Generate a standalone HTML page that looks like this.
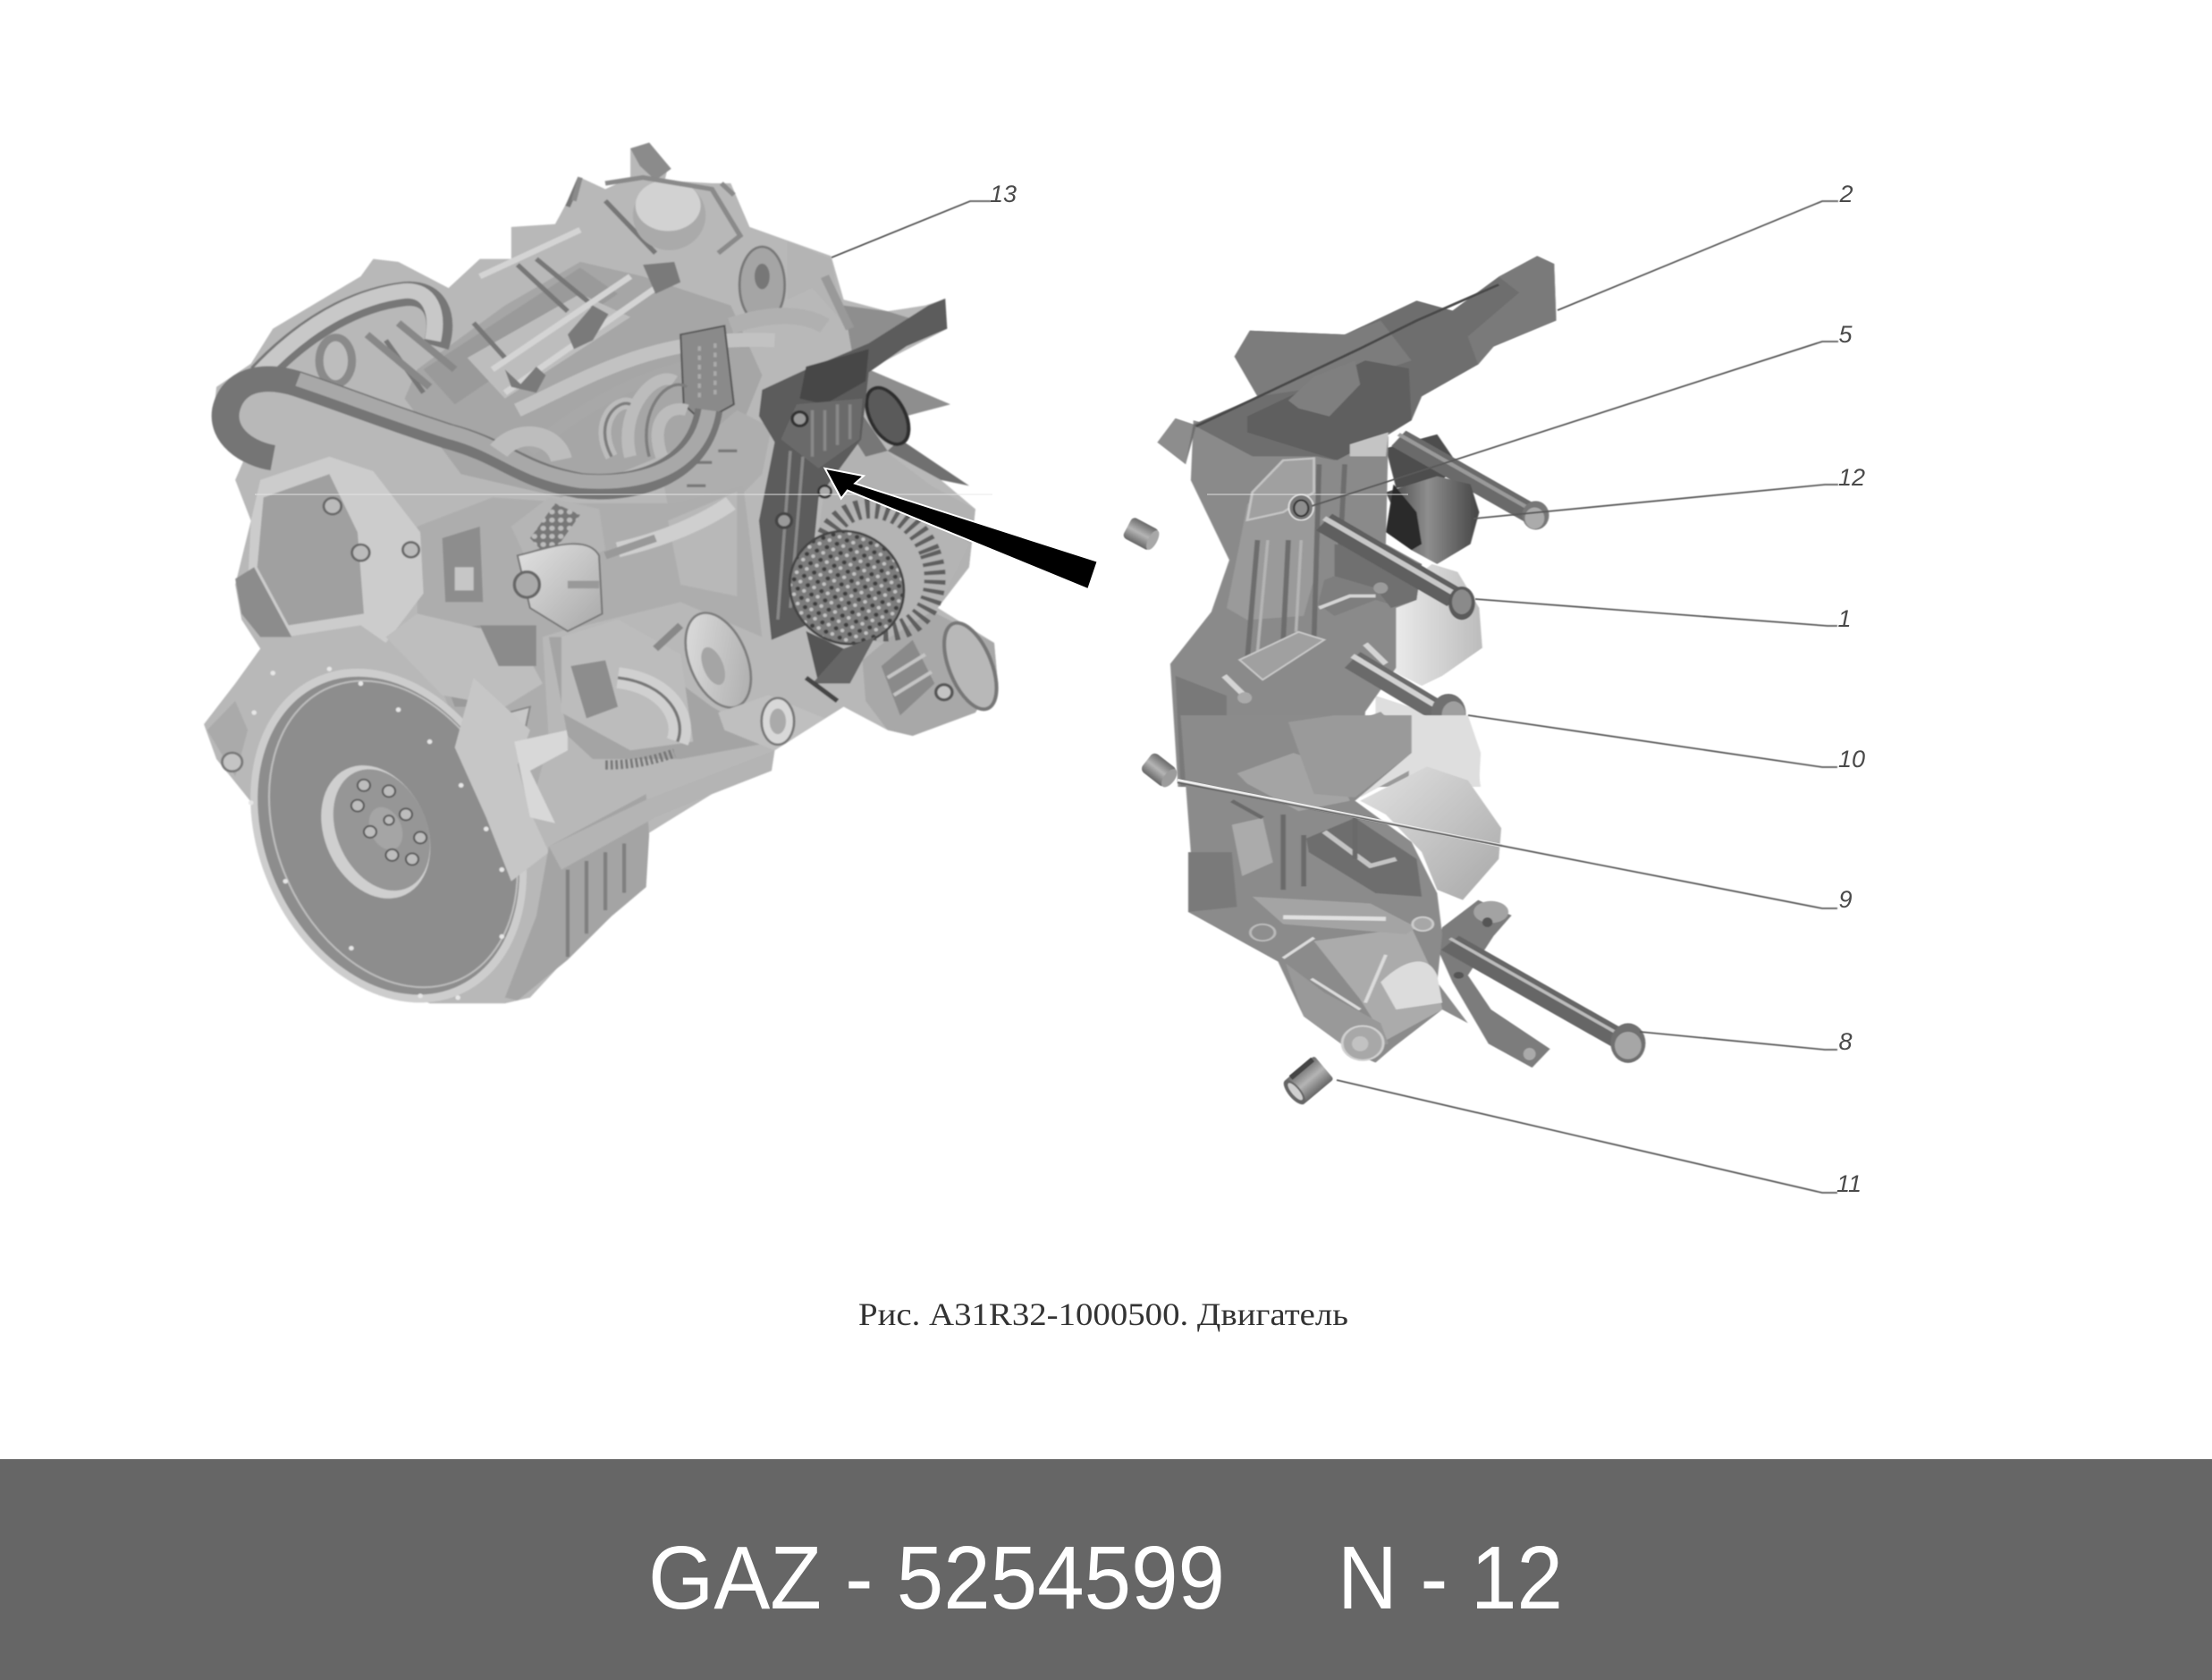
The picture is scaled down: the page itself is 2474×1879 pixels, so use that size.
<!DOCTYPE html>
<html><head><meta charset="utf-8"><style>
html,body{margin:0;padding:0;background:#fff;width:2474px;height:1879px;overflow:hidden}
svg{display:block}
</style></head><body>
<svg width="2474" height="1879" viewBox="0 0 2474 1879" xmlns="http://www.w3.org/2000/svg">
<defs>
<filter id="b" x="-5%" y="-5%" width="110%" height="110%"><feGaussianBlur stdDeviation="1.2"/></filter>
<filter id="s" x="-10%" y="-10%" width="120%" height="120%"><feGaussianBlur stdDeviation="0.5"/></filter>
<pattern id="dots" width="17" height="17" patternUnits="userSpaceOnUse"><rect width="17" height="17" fill="#7c7c7c"/><circle cx="5" cy="5" r="3.6" fill="#3c3c3c"/><circle cx="13" cy="12" r="3.2" fill="#c4c4c4"/></pattern>
<pattern id="mesh" width="14" height="14" patternUnits="userSpaceOnUse"><rect width="14" height="14" fill="#777"/><circle cx="7" cy="7" r="4.5" fill="#bbb"/></pattern>
<linearGradient id="lg" x1="0" y1="0" x2="1" y2="0"><stop offset="0" stop-color="#efefef"/><stop offset="1" stop-color="#bcbcbc"/></linearGradient>
<linearGradient id="lg2" x1="0" y1="0" x2="1" y2="1"><stop offset="0" stop-color="#e2e2e2"/><stop offset="1" stop-color="#a8a8a8"/></linearGradient>
<linearGradient id="dk" x1="0" y1="0" x2="1" y2="0"><stop offset="0" stop-color="#3f3f3f"/><stop offset=".45" stop-color="#8e8e8e"/><stop offset="1" stop-color="#444"/></linearGradient>
<linearGradient id="cyl" x1="0" y1="0" x2="0" y2="1"><stop offset="0" stop-color="#6a6a6a"/><stop offset=".5" stop-color="#b5b5b5"/><stop offset="1" stop-color="#666"/></linearGradient>
</defs>
<rect width="2474" height="1879" fill="#fff"/>

<!-- ENGINE -->
<g filter="url(#b)" transform="translate(200,140) scale(.7015,.6505)">
<path d="M720,40 750,30 780,70 775,95 850,100 880,100 910,175 1040,225 1060,300 1130,320 1190,310 1220,300 1225,350 1180,375 1100,420 1230,480 1160,500 1150,540 1260,620 1215,610 1270,660 1260,760 1210,830 1300,890 1305,950 1270,1010 1170,1050 1130,1040 1060,1000 950,1075 945,1110 850,1150 745,1220 745,1310 690,1360 620,1430 560,1500 520,1510 400,1510 280,1450 180,1300 120,1170 60,1090 40,1030 90,960 130,900 100,850 90,790 115,680 90,610 110,560 55,500 60,450 115,410 150,350 290,260 310,230 350,235 430,280 480,230 530,230 530,175 600,170 640,90 680,110 720,90Z" fill="#b8b8b8"/>
<!-- fan -->
<path d="M1060,310 1130,320 1190,340 1100,420 1230,480 1160,500 1130,520 1080,430Z" fill="#8e8e8e"/>
<path d="M1150,540 1260,620 1215,610 1130,560Z" fill="#6f6f6f"/>
<!-- head -->
<path d="M380,420 520,310 640,235 740,260 880,310 930,430 900,510 610,640 450,600 360,470Z" fill="#a6a6a6"/>
<path d="M390,420 640,245 700,290 440,480Z" fill="#9a9a9a"/>
<path d="M460,400 640,290 720,330 520,470Z" fill="#bdbdbd"/>
<path d="M540,240 620,320M570,230 660,310M680,130 760,220M640,90 620,140M330,370 390,460M470,340 520,400" stroke="#777" stroke-width="8" fill="none"/>
<path d="M500,420 720,260M520,460 760,280M480,260 640,180" stroke="#d4d4d4" stroke-width="10" fill="none"/>
<path d="M520,420 545,445 570,415 585,430 570,460 530,450Z M620,360 660,310 685,325 660,370 630,385Z M740,240 790,235 800,270 760,290Z" fill="#7a7a7a"/>
<!-- oil cap -->
<ellipse cx="782" cy="155" rx="58" ry="60" fill="#aaa"/><ellipse cx="780" cy="138" rx="52" ry="44" fill="#d2d2d2"/>
<path d="M720,40 750,30 785,75 760,95 735,70Z" fill="#8b8b8b"/>
<path d="M680,100 740,90 850,110 895,190 860,220M640,90 630,130M865,100 885,120" stroke="#8a8a8a" stroke-width="8" fill="none"/>
<!-- timing gear at rear -->
<ellipse cx="930" cy="275" rx="36" ry="66" fill="#a5a5a5" stroke="#777" stroke-width="4"/>
<ellipse cx="930" cy="260" rx="12" ry="22" fill="#777"/>
<path d="M970,200 1040,230 1050,290 1060,340 1010,280 970,300Z" fill="#b4b4b4"/>
<path d="M1030,260 1070,350" stroke="#999" stroke-width="14"/>
<!-- pipes -->
<path d="M880,345 C950,320 1000,325 1030,345" stroke="#b0b0b0" stroke-width="28" fill="none"/>
<path d="M540,490 C660,430 760,360 950,370" stroke="#c2c2c2" stroke-width="24" fill="none"/>
<path d="M560,560 C700,430 820,410 880,400" stroke="#a8a8a8" stroke-width="20" fill="none"/>
<!-- connector -->
<path d="M800,360 870,345 885,480 835,510 805,480Z" fill="#8a8a8a" stroke="#555" stroke-width="3"/>
<path d="M830,380V470M855,375V470" stroke="#aaa" stroke-width="5" stroke-dasharray="8 8"/>
<!-- loops -->
<path d="M690,570 C660,510 700,470 720,480M720,570 C700,490 760,420 790,440M770,570 C750,510 780,480 810,490" stroke="#bcbcbc" stroke-width="20" fill="none"/>
<path d="M690,570 C660,510 700,470 720,480M750,570 C730,490 780,430 810,450" stroke="#7d7d7d" stroke-width="5" fill="none"/>
<!-- upper metal pipe -->
<path d="M130,430 C200,350 280,300 360,290 C410,285 425,330 410,380" stroke="#777" stroke-width="42" fill="none"/>
<path d="M130,425 C200,345 280,295 360,285 C400,282 415,320 405,370" stroke="#c8c8c8" stroke-width="26" fill="none"/>
<ellipse cx="250" cy="405" rx="26" ry="40" fill="#bdbdbd" stroke="#8a8a8a" stroke-width="13"/>
<path d="M300,360 400,450M350,340 440,420" stroke="#888" stroke-width="12"/>
<!-- block top right -->
<path d="M770,600 890,490 945,520 930,600 870,665 780,655Z" fill="#aeaeae"/>
<path d="M820,580h30M860,560h30M810,620h30" stroke="#777" stroke-width="5"/>
<!-- large hose -->
<path d="M845,490 C830,590 740,630 640,620 C540,600 520,560 430,535 C330,500 260,470 190,445 C130,425 85,440 75,490 C68,535 110,565 150,572" stroke="#747474" stroke-width="44" fill="none"/>
<path d="M845,490 C830,590 740,620 640,612 C540,595 520,552 430,527 C330,492 260,462 190,437" stroke="#a8a8a8" stroke-width="24" fill="none"/>
<path d="M510,560 C540,520 600,530 610,575" stroke="#bdbdbd" stroke-width="34" fill="none"/>
<!-- block centre -->
<path d="M380,690 500,640 640,650 790,650 900,620 930,880 800,820 610,870 580,880 590,1060 560,1180 430,1000 380,860Z" fill="#adadad"/>
<path d="M420,710 480,690 485,820 425,820Z" fill="#8d8d8d"/>
<path d="M440,760h30v40h-30z" fill="#c6c6c6"/>
<path d="M780,680 890,630 890,810 800,790Z" fill="#b8b8b8"/>
<path d="M700,730 C780,710 840,680 880,650" stroke="#cfcfcf" stroke-width="26" fill="none"/>
<path d="M395,870 480,860 500,1000 440,1000Z" fill="#9a9a9a"/>
<!-- oil filter mesh -->
<path d="M530,690 590,640 670,660 680,730 620,760 560,760Z" fill="#b5b5b5"/>
<path d="M560,710 600,650 640,670 590,745Z" fill="url(#mesh)"/>
<path d="M540,740 C580,730 650,700 670,740 L675,840 620,870 560,830Z" fill="url(#lg2)" stroke="#777" stroke-width="3"/>
<path d="M680,740 760,710 M620,790h50" stroke="#999" stroke-width="13"/>
<ellipse cx="555" cy="790" rx="20" ry="22" fill="#aaa" stroke="#666" stroke-width="5"/>
<!-- timing cover -->
<path d="M130,610 240,570 310,595 385,700 390,805 330,890 290,860 170,880 110,790 115,680Z" fill="#cccccc"/>
<path d="M135,640 240,600 285,700 295,840 175,860 125,760Z" fill="#a0a0a0"/>
<path d="M90,780 120,760 180,880 130,880 100,840Z" fill="#8c8c8c"/>
<circle cx="245" cy="655" r="14" fill="#bbb" stroke="#666" stroke-width="4"/><circle cx="290" cy="735" r="14" fill="#bbb" stroke="#666" stroke-width="4"/><circle cx="370" cy="730" r="13" fill="#bbb" stroke="#666" stroke-width="4"/>
<path d="M330,880 380,840 540,880 580,960 520,1000 420,980Z" fill="#bebebe"/>
<path d="M480,860 570,860 570,930 510,930Z" fill="#8b8b8b"/>
<path d="M490,1020 560,1000 550,1050 480,1070Z" fill="#c8c8c8" stroke="#888" stroke-width="3"/>
<!-- flywheel -->
<g transform="rotate(-20 325 1225)">
<ellipse cx="335" cy="1225" rx="208" ry="296" fill="#cdcdcd"/>
<ellipse cx="335" cy="1225" rx="197" ry="282" fill="#8d8d8d"/>
<ellipse cx="343" cy="1225" rx="186" ry="272" fill="#8d8d8d" stroke="#bdbdbd" stroke-width="3"/>
<ellipse cx="318" cy="1212" rx="82" ry="118" fill="#cfcfcf"/>
<ellipse cx="328" cy="1212" rx="72" ry="108" fill="#969696"/>
<ellipse cx="335" cy="1212" rx="25" ry="38" fill="#a5a5a5"/>
</g>
<g fill="#bdbdbd" stroke="#555" stroke-width="3">
<circle cx="295" cy="1135" r="10"/><circle cx="335" cy="1145" r="10"/><circle cx="362" cy="1185" r="10"/><circle cx="385" cy="1225" r="10"/><circle cx="372" cy="1262" r="10"/><circle cx="340" cy="1255" r="10"/><circle cx="305" cy="1215" r="10"/><circle cx="285" cy="1170" r="10"/><circle cx="335" cy="1195" r="8"/>
</g>
<g fill="#e6e6e6"><circle cx="150" cy="942" r="4"/><circle cx="240" cy="935" r="4"/><circle cx="290" cy="960" r="4"/><circle cx="350" cy="1005" r="4"/><circle cx="400" cy="1060" r="4"/><circle cx="450" cy="1135" r="4"/><circle cx="490" cy="1210" r="4"/><circle cx="515" cy="1280" r="4"/><circle cx="515" cy="1395" r="4"/><circle cx="445" cy="1500" r="4"/><circle cx="385" cy="1497" r="4"/><circle cx="275" cy="1415" r="4"/><circle cx="170" cy="1300" r="4"/><circle cx="115" cy="1165" r="4"/><circle cx="120" cy="1010" r="4"/></g>
<path d="M45,1040 90,990 110,1040 90,1120Z" fill="#aaa"/><circle cx="85" cy="1095" r="16" fill="#c4c4c4" stroke="#777" stroke-width="4"/>
<!-- right of flywheel block -->
<path d="M470,950 560,1040 540,1100 560,1180 590,1250 530,1300 490,1190 440,1070Z" fill="#c6c6c6"/>
<path d="M535,1060 620,1040 620,1075 560,1110 600,1200 560,1190Z" fill="#d8d8d8"/>
<path d="M590,1240 745,1150 750,1220 745,1310 690,1360 620,1435 540,1505 520,1500 570,1360Z" fill="#a4a4a4"/>
<path d="M620,1280V1430M650,1265V1390M680,1250V1350M710,1235V1320" stroke="#7f7f7f" stroke-width="6"/>
<path d="M590,1240 745,1160 950,1075 945,1110 850,1150 760,1190 610,1280Z" fill="#b4b4b4"/>
<path d="M590,880 620,1050 660,1090 800,1090 950,1060 850,1000 700,880Z" fill="#a4a4a4"/>
<!-- pump/turbo -->
<path d="M610,880 700,850 800,910 820,1060 720,1075 610,1010Z" fill="#bcbcbc"/>
<path d="M625,930 680,920 700,1000 650,1020Z" fill="#8d8d8d"/>
<path d="M700,950 C780,960 810,1020 795,1060" stroke="#d0d0d0" stroke-width="36" fill="none"/>
<path d="M700,950 C780,960 810,1020 795,1060" stroke="#777" stroke-width="5" fill="none"/>
<path d="M760,900 800,860" stroke="#888" stroke-width="12"/>
<path d="M680,1100 C730,1100 760,1090 790,1080" stroke="#777" stroke-width="16" stroke-dasharray="4 4" fill="none"/>
<ellipse cx="860" cy="920" rx="46" ry="85" fill="url(#lg2)" stroke="#7d7d7d" stroke-width="4" transform="rotate(-20 860 920)"/>
<ellipse cx="852" cy="930" rx="16" ry="34" fill="#a5a5a5" transform="rotate(-20 852 930)"/>
<path d="M860,1010 940,980 1030,1020 950,1075 870,1040Z" fill="#bfbfbf"/>
<ellipse cx="955" cy="1025" rx="26" ry="40" fill="#d8d8d8" stroke="#777" stroke-width="4"/><ellipse cx="955" cy="1025" rx="13" ry="22" fill="#aaa"/>
<!-- rear pump -->
<path d="M1090,920 1190,830 1300,890 1305,950 1270,1010 1170,1050 1130,1040 1095,990Z" fill="#a8a8a8"/>
<ellipse cx="1262" cy="930" rx="34" ry="78" fill="#b8b8b8" stroke="#777" stroke-width="6" transform="rotate(-20 1262 930)"/>
<path d="M1120,930 1170,885 1205,960 1150,1015Z" fill="#8a8a8a"/>
<path d="M1130,950 1190,910M1140,980 1200,940" stroke="#c4c4c4" stroke-width="6"/>
<circle cx="1220" cy="975" r="13" fill="#c4c4c4" stroke="#555" stroke-width="5"/>
<!-- pulley + alternator -->
<path d="M1040,540 1090,530 1200,620 1270,660 1260,760 1210,830 1120,890 1050,870 1000,860Z" fill="#b2b2b2"/>
<ellipse cx="1130" cy="500" rx="28" ry="52" fill="#5a5a5a" stroke="#2f2f2f" stroke-width="6" transform="rotate(-25 1130 500)"/>
<path d="M1085,490 1130,560 1095,570 1060,510Z" fill="#777"/>
<!-- dark bracket -->
<path d="M930,455 1000,420 1100,375 1195,310 1222,298 1225,350 1160,380 1100,425 1088,540 1020,640 1000,860 945,885 925,680 950,545 925,500Z" fill="#5c5c5c"/>
<path d="M1000,415 1100,385 1095,440 1030,480 990,470Z" fill="#474747"/>
<path d="M985,480 1090,470 1085,540 1020,590 960,540Z" fill="#6a6a6a"/>
<path d="M1010,490V570M1030,490V560M1050,480V550M1070,480V540M975,560 955,850M995,570 975,830" stroke="#888" stroke-width="5"/>
<circle cx="990" cy="505" r="12" fill="#999" stroke="#333" stroke-width="5"/><circle cx="965" cy="680" r="12" fill="#999" stroke="#444" stroke-width="5"/><circle cx="1030" cy="630" r="10" fill="#aaa" stroke="#333" stroke-width="4"/>
<!-- alternator -->
<path d="M1080,650 1170,660 1260,720 1210,830 1130,880 1020,860Z" fill="#b4b4b4"/>
<ellipse cx="1115" cy="765" rx="88" ry="108" fill="none" stroke="#5e5e5e" stroke-width="34" stroke-dasharray="7 9" transform="rotate(-20 1115 765)"/>
<ellipse cx="1065" cy="795" rx="90" ry="98" fill="url(#dots)" stroke="#444" stroke-width="4" transform="rotate(-20 1065 795)"/>
<path d="M1000,870 1060,900 1060,960 1020,960Z" fill="#555"/><path d="M1060,900 1110,880 1070,960 1010,960Z" fill="#666"/>
<path d="M1000,950 1050,990" stroke="#444" stroke-width="8"/>
</g>

<!-- RIGHT PART upper -->
<g filter="url(#b)" transform="translate(1240,180) scale(.574,.4464)">
<path d="M540,720 640,685 680,760 650,800 560,820Z" fill="#4e4e4e"/>
<path d="M560,1080 630,1010 680,1030 722,1120 728,1220 650,1290 610,1315 540,1270Z" fill="url(#lg)"/>
<path d="M520,1340 640,1390 710,1450 725,1568 590,1568 520,1480Z" fill="#dedede"/>
<!-- bolt 12 -->
<path d="M565,695 825,885" stroke="#6b6b6b" stroke-width="48" fill="none"/>
<path d="M565,685 825,875" stroke="#9a9a9a" stroke-width="9" fill="none"/>
<ellipse cx="832" cy="888" rx="26" ry="36" fill="#777"/><ellipse cx="830" cy="895" rx="19" ry="27" fill="#ababab"/>
<!-- tensioner pulley -->
<path d="M540,830 640,790 705,810 722,880 705,960 640,1010 590,975Z" fill="url(#dk)"/>
<path d="M555,810 600,880 610,960 590,975 540,930Z" fill="#2b2b2b"/>
<!-- body -->
<path d="M165,650 440,745 545,690 540,960 610,1010 600,1100 560,1120 560,1270 500,1380 490,1568 135,1568 120,1260 200,1130 235,1000 160,800Z" fill="#8a8a8a"/>
<path d="M270,860 400,740 410,1000 380,1140 270,1150 230,1120 255,960Z" fill="#9a9a9a"/>
<path d="M290,950 270,1250M350,950 340,1200M410,760 400,1200M460,760 450,1000" stroke="#6d6d6d" stroke-width="10"/>
<path d="M310,950 290,1230M375,950 365,1180" stroke="#b4b4b4" stroke-width="6"/>
<path d="M280,830 340,750 400,745 400,830 340,880 270,900Z" fill="#a0a0a0" stroke="#c4c4c4" stroke-width="5"/>
<path d="M420,1050 440,1040 520,1060 555,1045 600,1090 560,1115 520,1100 440,1140 408,1110Z" fill="#7e7e7e"/>
<path d="M410,1120 470,1090 520,1090" stroke="#d4d4d4" stroke-width="8" fill="none"/>
<path d="M440,960 610,1010 600,1100 550,1120 520,1070 440,1040Z" fill="#707070"/>
<circle cx="530" cy="1070" r="14" fill="#9b9b9b"/>
<path d="M255,1250 370,1180 420,1200 300,1300Z" fill="#a0a0a0" stroke="#c8c8c8" stroke-width="4"/>
<path d="M130,1290 230,1340 230,1568 140,1568Z" fill="#797979"/>
<path d="M430,1430 530,1380 585,1450 585,1568 400,1568Z" fill="#9a9a9a"/>
<path d="M270,1500 340,1480 440,1550 400,1568 270,1568Z" fill="#a3a3a3"/>
<path d="M225,1290 265,1340 M500,1210 540,1260" stroke="#d4d4d4" stroke-width="12"/>
<circle cx="205" cy="1465" r="8" fill="#e5e5e5"/>
<circle cx="265" cy="1345" r="14" fill="#aaa"/>
<!-- top bracket -->
<path d="M275,425 460,435 600,350 670,375 760,290 835,238 868,258 872,400 750,465 720,510 610,590 590,650 540,690 440,750 405,740 280,740 170,665 150,760 95,705 130,645 165,660 290,590 245,490Z" fill="#6e6e6e"/>
<path d="M760,290 835,238 868,258 872,400 750,465 720,510 700,440 800,330Z" fill="#7a7a7a"/>
<path d="M275,425 460,435 530,400 590,500 450,560 290,590 245,490Z" fill="#7b7b7b"/>
<path d="M170,665 490,470 600,400 760,310" stroke="#4a4a4a" stroke-width="6" fill="none"/>
<path d="M270,640 500,500 585,520 590,650 445,750 270,680Z" fill="#5e5e5e"/>
<path d="M350,600 400,540 480,500 490,560 430,640 370,620Z" fill="#7f7f7f"/>
<path d="M95,705 130,645 165,660 150,760Z" fill="#8d8d8d"/>
<path d="M470,710 545,680 540,740 470,740Z" fill="#c4c4c4"/>
<!-- bolt 1 -->
<path d="M420,905 675,1095" stroke="#5e5e5e" stroke-width="52" fill="none"/>
<path d="M420,895 675,1085" stroke="#c8c8c8" stroke-width="12" fill="none"/>
<ellipse cx="688" cy="1108" rx="26" ry="42" fill="#5a5a5a"/><ellipse cx="688" cy="1105" rx="19" ry="31" fill="#8a8a8a"/>
<!-- bolt 10 -->
<path d="M475,1250 650,1385" stroke="#6a6a6a" stroke-width="50" fill="none"/>
<path d="M475,1240 650,1375" stroke="#d2d2d2" stroke-width="12" fill="none"/>
<ellipse cx="662" cy="1385" rx="34" ry="50" fill="#6f6f6f"/><ellipse cx="672" cy="1388" rx="23" ry="34" fill="#9f9f9f"/>
<!-- washer 5 -->
<ellipse cx="375" cy="868" rx="24" ry="32" fill="#777" stroke="#e6e6e6" stroke-width="3"/><ellipse cx="375" cy="870" rx="14" ry="20" fill="#8e8e8e" stroke="#333" stroke-width="4"/>
</g>

<!-- RIGHT PART lower -->
<g filter="url(#b)" transform="translate(1240,800) scale(.574,.3827)">
<path d="M590,0 700,0 725,110 722,190 600,150 490,240Z" fill="#dedede"/>
<path d="M490,250 620,150 700,190 765,330 760,420 690,540 640,510 610,400 540,290Z" fill="url(#lg2)"/>
<!-- fork -->
<path d="M650,620 720,540 785,585 750,645 700,760 745,860 860,975 825,1030 740,960 670,780 640,680Z" fill="#7c7c7c"/>
<ellipse cx="745" cy="575" rx="34" ry="32" fill="#a3a3a3"/><ellipse cx="738" cy="605" rx="10" ry="14" fill="#555"/>
<ellipse cx="820" cy="990" rx="12" ry="18" fill="#aaa"/>
<!-- body -->
<path d="M140,0 590,0 590,110 480,250 590,370 640,520 650,640 640,780 700,900 650,860 555,970 520,1015 480,990 380,880 330,720 155,575 160,400Z" fill="#8b8b8b"/>
<path d="M400,660 590,620 640,780 650,860 540,950 490,830Z" fill="#ababab"/>
<path d="M530,780 C570,720 620,690 640,760 L650,840 560,860Z" fill="#dcdcdc"/>
<path d="M250,170 360,110 440,150 470,250 370,280 270,200Z" fill="#a4a4a4"/>
<path d="M350,20 440,0 590,0 590,110 480,240 400,230Z" fill="#9a9a9a"/>
<path d="M385,360 480,300 600,420 610,530 520,520 390,400Z" fill="#6e6e6e"/>
<path d="M420,340 510,440 560,420" stroke="#c4c4c4" stroke-width="12" fill="none"/>
<path d="M280,530 510,550 600,620 580,640 340,610Z" fill="#a4a4a4"/>
<path d="M340,590 540,595" stroke="#e0e0e0" stroke-width="12"/>
<path d="M240,320 300,300 320,430 260,470Z" fill="#ababab"/>
<path d="M240,250 300,300 M340,290 340,510M380,350 380,500M480,290 480,420" stroke="#6a6a6a" stroke-width="10"/>
<path d="M155,400 240,400 250,560 155,575Z" fill="#7a7a7a"/>
<circle cx="612" cy="610" r="20" fill="#a7a7a7" stroke="#ccc" stroke-width="5"/>
<circle cx="300" cy="635" r="24" fill="#8e8e8e" stroke="#bbb" stroke-width="5"/>
<path d="M345,725 380,880 480,990 545,960 530,900 420,810Z" fill="#999"/>
<path d="M395,770 490,860M500,840 540,700M340,710 400,650" stroke="#dcdcdc" stroke-width="7"/>
<ellipse cx="495" cy="958" rx="40" ry="50" fill="#a8a8a8" stroke="#d0d0d0" stroke-width="5"/><ellipse cx="490" cy="960" rx="16" ry="22" fill="#c2c2c2"/>
<circle cx="682" cy="760" r="10" fill="#555"/>
<!-- bolt 8 -->
<path d="M665,665 1000,950" stroke="#666" stroke-width="54" fill="none"/>
<path d="M665,652 1000,937" stroke="#bcbcbc" stroke-width="8" fill="none"/>
<ellipse cx="1012" cy="958" rx="34" ry="58" fill="#707070"/><ellipse cx="1012" cy="965" rx="26" ry="40" fill="#a6a6a6"/>
</g>

<!-- bushes -->
<g filter="url(#s)">
<g transform="translate(1276,597) rotate(28)"><rect x="-17" y="-13" width="34" height="26" rx="5" fill="url(#cyl)"/><ellipse cx="15" cy="0" rx="5" ry="12" fill="#a8a8a8"/></g>
<g transform="translate(1296,861) rotate(38)"><rect x="-17" y="-13" width="34" height="26" rx="6" fill="url(#cyl)"/><ellipse cx="15" cy="0" rx="6" ry="12" fill="#9c9c9c"/></g>
<g transform="translate(1464,1208) rotate(-40)"><rect x="-22" y="-17" width="44" height="34" rx="3" fill="url(#cyl)"/><ellipse cx="-21" cy="0" rx="7" ry="17" fill="#666"/><ellipse cx="-20" cy="0" rx="4" ry="12" fill="#cfcfcf"/><rect x="-14" y="-18" width="32" height="6" fill="#444"/></g>
</g>

<!-- faint horizontal seam -->
<path d="M285,553H1110M1350,553H1575" stroke="#e8e8e8" stroke-width="1.5" opacity=".6"/>

<!-- Arrow -->
<g transform="translate(200,140) scale(.7015,.6505)">
<path d="M1030,590 1092,603 1078,616 1465,750 1450,798 1066,628 1056,642Z" fill="#000" stroke="#fff" stroke-width="3"/>
</g>

<!-- leader 9 halo -->
<path d="M1317,875 1680,948" fill="none" stroke="#efefef" stroke-width="4" transform="translate(0,-2)"/>

<!-- leaders -->
<g fill="none" stroke="#5a5a5a" stroke-width="1.8" filter="url(#s)">
<path d="M930,288 1085,225H1108"/>
<path d="M1742,347 2038,225H2056"/>
<path d="M1467,566 2038,382H2056"/>
<path d="M1648,580 2041,542H2056"/>
<path d="M1650,670 2044,700H2055"/>
<path d="M1642,800 2038,858H2055"/>
<path d="M1317,875 2038,1016H2055"/>
<path d="M1834,1154 2041,1174H2055"/>
<path d="M1495,1208 2038,1334H2055"/>
</g>

<!-- numbers -->
<g font-family="'Liberation Sans',sans-serif" font-style="italic" font-size="27" fill="#4a4a4a" text-anchor="middle">
<text x="1122" y="226">13</text>
<text x="2065" y="226">2</text>
<text x="2064" y="383">5</text>
<text x="2071" y="543">12</text>
<text x="2063" y="701">1</text>
<text x="2071" y="858">10</text>
<text x="2064" y="1015">9</text>
<text x="2064" y="1174">8</text>
<text x="2068" y="1333">11</text>
</g>

<text x="960" y="1482" font-family="'Liberation Serif',serif" font-size="36" fill="#333" textLength="548" lengthAdjust="spacingAndGlyphs">Рис. А31R32-1000500. Двигатель</text>

<rect x="0" y="1632" width="2474" height="247" fill="#666"/>
<g font-family="'Liberation Sans',sans-serif" font-size="100" fill="#fff">
<text x="725" y="1799" textLength="645" lengthAdjust="spacingAndGlyphs">GAZ - 5254599</text>
<text x="1496" y="1799" textLength="252" lengthAdjust="spacingAndGlyphs">N - 12</text>
</g>
</svg>
</body></html>
